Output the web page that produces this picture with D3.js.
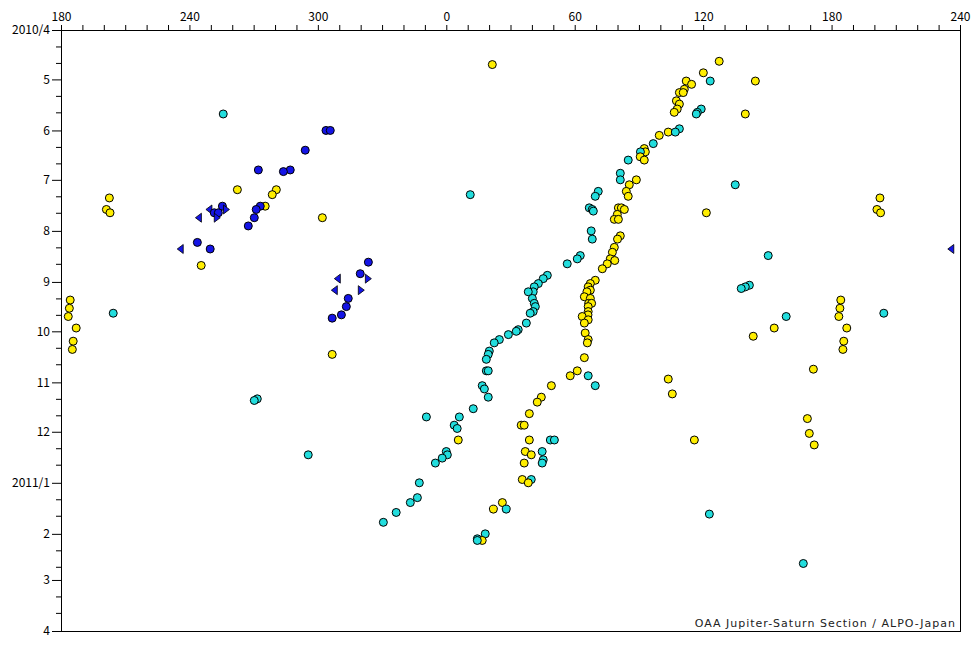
<!DOCTYPE html>
<html><head><meta charset="utf-8">
<script src="https://cdn.jsdelivr.net/npm/d3@7"></script>
<style>body{margin:0;background:#fff} svg{display:block}</style>
</head><body>
<svg id="chart" width="980" height="650"></svg>
<script>
// ---- data: [longitude (System II, deg), date] ----
const yellowSpots = [
 [21.5,"2010-04-22"],[202.6,"2010-07-12"],[201.2,"2010-07-19"],[202.9,"2010-07-21"],
 [184.3,"2010-09-12"],[183.9,"2010-09-17"],[183.4,"2010-09-22"],[187.1,"2010-09-29"],
 [185.7,"2010-10-07"],[185.3,"2010-10-12"],[262.4,"2010-07-07"],[280.6,"2010-07-07"],
 [278.7,"2010-07-10"],[275.4,"2010-07-17"],[302.1,"2010-07-24"],[245.5,"2010-08-22"],
 [306.7,"2010-10-15"],[127.5,"2010-04-20"],[120.1,"2010-04-27"],[112.1,"2010-05-02"],
 [114.6,"2010-05-04"],[111.2,"2010-05-07"],[108.9,"2010-05-09"],[110.7,"2010-05-09"],
 [107.5,"2010-05-14"],[108.9,"2010-05-16"],[107.9,"2010-05-19"],[106.5,"2010-05-21"],
 [103.7,"2010-06-02"],[99.5,"2010-06-04"],[92.5,"2010-06-12"],[93.0,"2010-06-14"],
 [90.6,"2010-06-17"],[92.5,"2010-06-19"],[88.8,"2010-07-01"],[85.5,"2010-07-04"],
 [84.1,"2010-07-08"],[85.0,"2010-07-11"],[80.4,"2010-07-18"],[81.8,"2010-07-18"],
 [83.2,"2010-07-19"],[79.9,"2010-07-22"],[78.5,"2010-07-25"],[80.4,"2010-07-25"],
 [81.3,"2010-08-04"],[80.0,"2010-08-06"],[78.5,"2010-08-11"],[77.6,"2010-08-14"],
 [78.7,"2010-08-19"],[76.6,"2010-08-18"],[75.2,"2010-08-21"],[72.9,"2010-08-24"],
 [69.6,"2010-08-31"],[67.3,"2010-09-02"],[66.3,"2010-09-04"],[67.3,"2010-09-06"],
 [65.7,"2010-09-07"],[64.5,"2010-09-10"],[67.3,"2010-09-11"],[66.5,"2010-09-14"],
 [67.9,"2010-09-14"],[66.3,"2010-09-16"],[66.3,"2010-09-19"],[63.5,"2010-09-22"],
 [66.2,"2010-09-21"],[66.3,"2010-09-24"],[64.5,"2010-09-26"],[64.9,"2010-10-02"],
 [66.3,"2010-10-06"],[65.9,"2010-10-08"],[64.5,"2010-10-17"],[61.2,"2010-10-25"],
 [57.9,"2010-10-28"],[49.1,"2010-11-03"],[44.4,"2010-11-10"],[42.5,"2010-11-13"],
 [38.8,"2010-11-20"],[35.0,"2010-11-27"],[36.4,"2010-11-27"],[5.6,"2010-12-06"],
 [38.8,"2010-12-06"],[36.9,"2010-12-13"],[39.7,"2010-12-15"],[36.4,"2010-12-20"],
 [35.5,"2010-12-30"],[38.3,"2011-01-01"],[26.2,"2011-01-13"],[22.0,"2011-01-17"],
 [16.8,"2011-02-05"],[103.7,"2010-10-30"],[105.6,"2010-11-08"],[153.2,"2010-09-29"],
 [143.4,"2010-10-04"],[171.5,"2010-10-24"],[168.7,"2010-11-23"],[169.6,"2010-12-02"],
 [171.9,"2010-12-09"],[115.9,"2010-12-06"],[144.4,"2010-05-02"],[139.7,"2010-05-22"],
 [121.5,"2010-07-21"]
];
const cyanSpots = [
 [255.8,"2010-05-22"],[204.4,"2010-09-20"],[270.3,"2010-11-12"],[271.7,"2010-11-11"],
 [295.5,"2010-12-15"],[11.2,"2010-07-10"],[123.3,"2010-05-02"],[119.1,"2010-05-19"],
 [117.3,"2010-05-21"],[116.8,"2010-05-22"],[108.9,"2010-05-31"],[107.0,"2010-06-02"],
 [96.7,"2010-06-09"],[90.7,"2010-06-14"],[85.0,"2010-06-19"],[81.3,"2010-06-27"],
 [81.3,"2010-07-01"],[71.0,"2010-07-08"],[69.6,"2010-07-11"],[66.8,"2010-07-18"],
 [68.2,"2010-07-19"],[68.7,"2010-07-20"],[67.7,"2010-08-01"],[68.2,"2010-08-06"],
 [62.6,"2010-08-16"],[61.2,"2010-08-18"],[56.5,"2010-08-21"],[47.2,"2010-08-28"],
 [45.3,"2010-08-30"],[43.0,"2010-09-02"],[41.1,"2010-09-04"],[40.6,"2010-09-07"],
 [38.3,"2010-09-07"],[40.2,"2010-09-11"],[41.1,"2010-09-14"],[41.6,"2010-09-16"],
 [40.6,"2010-09-19"],[39.2,"2010-09-20"],[37.4,"2010-09-26"],[33.6,"2010-09-30"],
 [32.7,"2010-10-01"],[29.0,"2010-10-03"],[24.8,"2010-10-06"],[22.4,"2010-10-08"],
 [20.1,"2010-10-13"],[19.6,"2010-10-15"],[18.7,"2010-10-18"],[18.7,"2010-10-25"],
 [19.6,"2010-10-25"],[16.8,"2010-11-03"],[17.8,"2010-11-05"],[19.6,"2010-11-10"],
 [12.6,"2010-11-17"],[6.1,"2010-11-22"],[350.7,"2010-11-22"],[3.7,"2010-11-27"],
 [5.1,"2010-11-29"],[0.0,"2010-12-13"],[0.5,"2010-12-15"],[358.1,"2010-12-17"],
 [354.9,"2010-12-20"],[347.4,"2011-01-01"],[346.5,"2011-01-10"],[343.2,"2011-01-13"],
 [336.6,"2011-01-19"],[330.6,"2011-01-25"],[18.2,"2011-02-01"],[14.5,"2011-02-04"],
 [14.5,"2011-02-05"],[48.6,"2010-12-06"],[50.5,"2010-12-06"],[44.8,"2010-12-13"],
 [45.3,"2010-12-18"],[44.8,"2010-12-20"],[39.7,"2010-12-30"],[28.0,"2011-01-17"],
 [66.3,"2010-10-28"],[69.6,"2010-11-03"],[150.4,"2010-08-16"],[137.8,"2010-09-05"],
 [139.7,"2010-09-04"],[141.6,"2010-09-03"],[158.8,"2010-09-22"],[122.9,"2011-01-20"],
 [166.8,"2011-02-19"],[135.0,"2010-07-04"]
];
const blueSpots = [
 [303.8,"2010-06-01"],[305.8,"2010-06-01"],[294.1,"2010-06-13"],[272.2,"2010-06-25"],
 [283.9,"2010-06-26"],[287.1,"2010-06-25"],[255.4,"2010-07-17"],[251.6,"2010-07-21"],
 [253.5,"2010-07-21"],[273.1,"2010-07-17"],[271.2,"2010-07-19"],[270.3,"2010-07-24"],
 [267.5,"2010-07-29"],[243.7,"2010-08-08"],[249.7,"2010-08-12"],[323.6,"2010-08-20"],
 [319.8,"2010-08-27"],[314.2,"2010-09-11"],[313.3,"2010-09-16"],[311.0,"2010-09-21"],
 [306.7,"2010-09-23"]
];
const bluePrecedingEnds = [
 [249.1,"2010-07-19"],[244.2,"2010-07-24"],[235.7,"2010-08-12"],[309.1,"2010-08-30"],[307.7,"2010-09-06"]
];
const blueFollowingEnds = [
 [257.3,"2010-07-19"],[253.0,"2010-07-24"],[323.6,"2010-08-30"],[320.3,"2010-09-06"]
];
const lonLabelTicks = [180,240,300,0,60,120,180,240];
const startDate = "2010-04-01", endDate = "2011-04-01";
const creditText = "OAA Jupiter-Saturn Section / ALPO-Japan";

// ---- drawing ----
const parse = d3.utcParse("%Y-%m-%d");
const svg = d3.select("#chart");
const L = 61, R = 960, T = 30, B = 631;
const x = d3.scaleLinear().domain([180, 600]).range([L, R]);
const y = d3.scaleUtc().domain([parse(startDate), parse(endDate)]).range([T, B]);

const colors = {yellow:"#ffee00", cyan:"#22dddd", blue:"#1414e6"};
let pts = [];
function add(arr, color, shape){
  arr.forEach(([lon, ds]) => {
    const date = parse(ds);
    const l = lon < 180 ? lon + 360 : lon;
    pts.push({lon:l, date, color, shape});
    if (l <= 240) pts.push({lon:l + 360, date, color, shape});
  });
}
add(yellowSpots, colors.yellow, "circle");
add(cyanSpots, colors.cyan, "circle");
add(blueSpots, colors.blue, "circle");
add(bluePrecedingEnds, colors.blue, "left");
add(blueFollowingEnds, colors.blue, "right");
pts.sort((a,b) => a.date - b.date);

const font = "'Noto Sans CJK JP', 'Liberation Sans', sans-serif";

// top axis
const nStart = 180;
const xAxis = d3.axisTop(x)
  .tickValues(d3.range(180, 601, 10))
  .tickSize(5).tickPadding(4)
  .tickFormat(d => (d - nStart) % 60 === 0 ? String(lonLabelTicks[(d - nStart) / 60]) : "");
const gx = svg.append("g").attr("transform", `translate(0,${T})`).call(xAxis);
gx.select(".domain").remove();
gx.selectAll("text").attr("font-family", font).attr("font-size", 12).attr("fill", "#000");
gx.selectAll("line").attr("stroke", "#000");

// left axis
const months = d3.utcMonth.range(parse(startDate), d3.utcDay.offset(parse(endDate), 1));
const fmtY = d => (d.getUTCMonth() === 0 || +d === +parse(startDate)) ? d3.utcFormat("%Y/%-m")(d) : d3.utcFormat("%-m")(d);
const yAxis = d3.axisLeft(y).tickValues(months).tickSize(9).tickPadding(2).tickFormat(fmtY);
const minorDates = [];
months.forEach(m => { if (m < parse(endDate)) { minorDates.push(d3.utcDay.offset(m, 10), d3.utcDay.offset(m, 20)); } });
const gyMinor = svg.append("g").attr("transform", `translate(${L},0)`)
  .call(d3.axisLeft(y).tickValues(minorDates).tickSize(5).tickFormat(""));
gyMinor.select(".domain").remove();
gyMinor.selectAll("line").attr("stroke", "#000");
const gy = svg.append("g").attr("transform", `translate(${L},0)`).call(yAxis);
gy.select(".domain").remove();
gy.selectAll("text").attr("font-family", font).attr("font-size", 12).attr("fill", "#000");
gy.selectAll("line").attr("stroke", "#000");

// frame
svg.append("rect").attr("x", L + 0.5).attr("y", T + 0.5)
  .attr("width", R - L).attr("height", B - T)
  .attr("fill", "none").attr("stroke", "#000").attr("stroke-width", 1);

// points
const g = svg.append("g");
pts.forEach(p => {
  const cx = x(p.lon), cy = y(p.date);
  if (p.shape === "circle") {
    g.append("circle").attr("cx", cx).attr("cy", cy).attr("r", 4)
      .attr("fill", p.color).attr("stroke", "#000").attr("stroke-width", 1);
  } else {
    const s = p.shape === "left" ? 1 : -1;
    g.append("path")
      .attr("d", `M${cx - 3*s},${cy} L${cx + 3*s},${cy - 4.5} L${cx + 3*s},${cy + 4.5} Z`)
      .attr("fill", p.color).attr("stroke", "#000").attr("stroke-width", 0.8);
  }
});

// credit
svg.append("text").attr("x", 956).attr("y", 627).attr("text-anchor", "end")
  .attr("font-family", "'DejaVu Sans', sans-serif").attr("font-size", 11)
  .attr("letter-spacing", "1px").attr("fill", "#222").text(creditText);
</script>
</body></html>
